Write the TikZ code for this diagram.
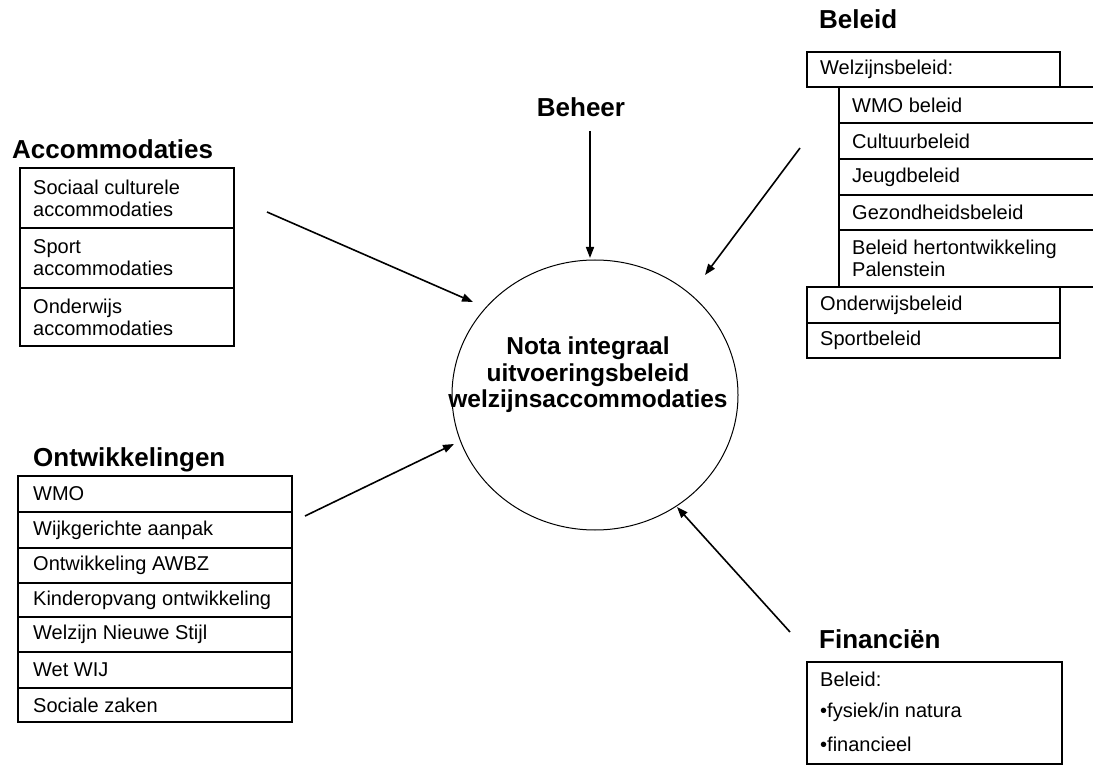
\documentclass[tikz,border=0pt]{standalone}
\usepackage{fontspec}
\setmainfont{Liberation Sans}
\usetikzlibrary{shapes.geometric,arrows.meta}
\begin{document}
\begin{tikzpicture}[x=1pt,y=-1pt,
  box/.style={line width=2pt},
  txt/.style={anchor=west, inner sep=0pt, font=\fontsize{20}{22}\selectfont, align=left},
  head/.style={anchor=base west, inner sep=0pt, font=\fontsize{26}{28}\selectfont\bfseries},
  arr/.style={line width=1.6pt, -{Triangle[length=11pt,width=8pt]}}]
\useasboundingbox[fill=white] (0,0) rectangle (1093,767);

% ---------- centre ellipse ----------
\node[ellipse, draw, line width=1pt, minimum width=286pt, minimum height=270pt, inner sep=0pt] (ell) at (595,395) {};
\node[align=center, inner sep=0pt, font=\fontsize{24.5}{26.5}\selectfont\bfseries] (nota) at (588,375)
  {Nota integraal\\uitvoeringsbeleid\\welzijnsaccommodaties};

% ---------- Beheer ----------
\node[head, anchor=base] (beheer) at (581,117) {Beheer};

% ---------- Accommodaties ----------
\node[head] (acc) at (12,159) {Accommodaties};
\draw[box] (20,168) rectangle (234,346);
\draw[box] (20,228) -- (234,228);
\draw[box] (20,288) -- (234,288);
\node[txt] (acc1) at (33,198) {Sociaal culturele\\accommodaties};
\node[txt] (acc2) at (33,258) {Sport\\accommodaties};
\node[txt] (acc3) at (33,317) {Onderwijs\\accommodaties};

% ---------- Ontwikkelingen ----------
\node[head] (ont) at (33,466) {Ontwikkelingen};
\draw[box] (18,476) rectangle (292,722);
\foreach \yy in {512,548,583,617,652,688} {\draw[box] (18,\yy) -- (292,\yy);}
\node[txt] (o1) at (33,494) {WMO};
\node[txt] (o2) at (33,530) {Wijkgerichte aanpak};
\node[txt] (o3) at (33,565.5) {Ontwikkeling AWBZ};
\node[txt] (o4) at (33,600) {Kinderopvang ontwikkeling};
\node[txt] (o5) at (33,634.5) {Welzijn Nieuwe Stijl};
\node[txt] (o6) at (33,670) {Wet WIJ};
\node[txt] (o7) at (33,705) {Sociale zaken};

% ---------- Beleid ----------
\node[head] (beleid) at (819,29) {Beleid};
\draw[box] (807,52) rectangle (1060,87);
\node[txt] (b0) at (820,69.5) {Welzijnsbeleid:};
\draw[box] (1060,87) -- (1093,87);
\draw[box] (839,87) -- (839,287);
\foreach \yy in {123,159,195,230,287} {\draw[box] (839,\yy) -- (1093,\yy);}
\node[txt] (b1) at (852,105) {WMO beleid};
\node[txt] (b2) at (852,141) {Cultuurbeleid};
\node[txt] (b3) at (852,177) {Jeugdbeleid};
\node[txt] (b4) at (852,212.5) {Gezondheidsbeleid};
\node[txt] (b5) at (852,258.5) {Beleid hertontwikkeling\\Palenstein};
\draw[box] (807,287) rectangle (1060,358);
\draw[box] (807,323) -- (1060,323);
\node[txt] (b6) at (820,305) {Onderwijsbeleid};
\node[txt] (b7) at (820,340.5) {Sportbeleid};

% ---------- Financien ----------
\node[head] (fin) at (819,648) {Financiën};
\draw[box] (807,662) rectangle (1062,764);
\node[txt] (f1) at (820,679) {Beleid:};
\node[txt] (f2) at (820,712) {•fysiek/in natura};
\node[txt] (f3) at (820,744) {•financieel};

% ---------- arrows ----------
\coordinate (behS) at (590,131);  \coordinate (behE) at (590,258);
\coordinate (accS) at (267,212);  \coordinate (accE) at (473,302);
\coordinate (ontS) at (305,516);  \coordinate (ontE) at (454,444);
\coordinate (belS) at (800,148);  \coordinate (belE) at (705,275);
\coordinate (finS) at (790,632);  \coordinate (finE) at (677,507);
\draw[arr] (behS) -- (behE);
\draw[arr] (accS) -- (accE);
\draw[arr] (ontS) -- (ontE);
\draw[arr] (belS) -- (belE);
\draw[arr] (finS) -- (finE);
\end{tikzpicture}
\end{document}
